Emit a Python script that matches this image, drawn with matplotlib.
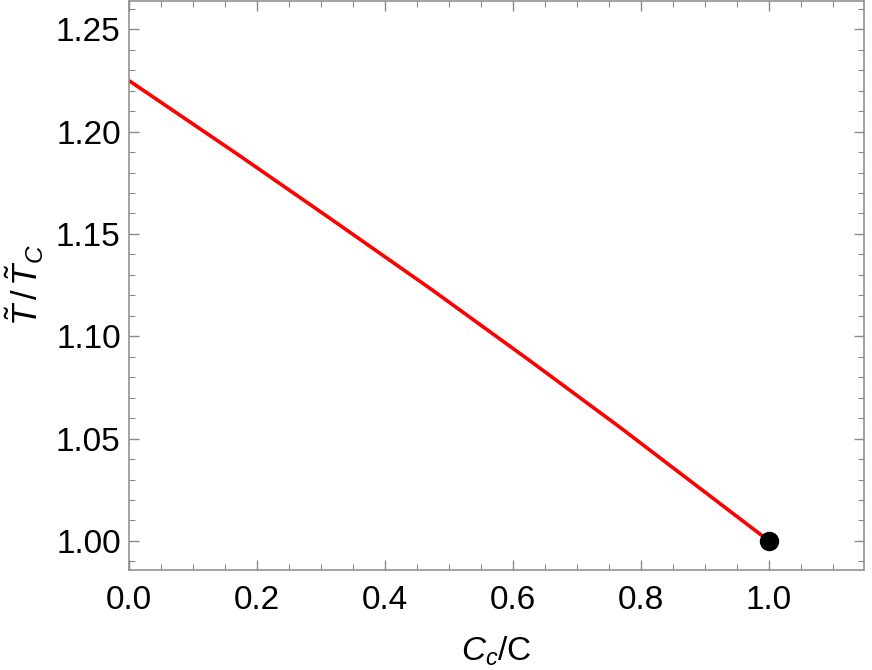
import matplotlib
matplotlib.use("Agg")
import matplotlib.pyplot as plt
from matplotlib.ticker import MultipleLocator, FormatStrFormatter

plt.rcParams['font.family'] = ['Liberation Sans', 'DejaVu Sans']
plt.rcParams['mathtext.fontset'] = 'custom'
plt.rcParams['mathtext.rm'] = 'Liberation Sans'
plt.rcParams['mathtext.it'] = 'Liberation Sans:italic'
plt.rcParams['mathtext.bf'] = 'Liberation Sans:bold'

# data
cc_ratio = [0.0, 0.1734, 0.3141, 0.4703, 0.6266, 0.7672, 0.8766, 1.0]
t_ratio = [1.2249, 1.1881, 1.1576, 1.1234, 1.0880, 1.0555, 1.0294, 1.0]
crit_x = [1.0]
crit_y = [1.0]
xticks = [0.0, 0.2, 0.4, 0.6, 0.8, 1.0]
yticks = [1.00, 1.05, 1.10, 1.15, 1.20, 1.25]

fig = plt.figure(figsize=(8.72, 6.7), dpi=100)
ax = fig.add_axes([129/872, 1 - 570/670, (864 - 129)/872, (570 - 1)/670])

ax.plot(cc_ratio, t_ratio, color='#ff0000', lw=2.6, solid_capstyle='butt', zorder=2)
ax.plot(crit_x, crit_y, 'o', color='black', ms=13, zorder=3)

ax.set_xlim(0.0, 1.1484)
ax.set_ylim(0.9858, 1.2638)
ax.set_xticks(xticks)
ax.set_yticks(yticks)
ax.xaxis.set_major_formatter(FormatStrFormatter('%.1f'))
ax.yaxis.set_major_formatter(FormatStrFormatter('%.2f'))
ax.xaxis.set_minor_locator(MultipleLocator(0.05))
ax.yaxis.set_minor_locator(MultipleLocator(0.01))

gray = '#8a8a8a'
for s in ax.spines.values():
    s.set_color(gray)
    s.set_linewidth(1.1)
ax.tick_params(which='both', direction='in', top=True, right=True, color=gray,
               labelsize=24, labelcolor='black')
ax.tick_params(which='major', length=7, width=1.0)
ax.tick_params(axis='x', which='major', pad=11)
ax.tick_params(axis='y', which='major', pad=6)
ax.tick_params(which='minor', length=4, width=0.8)

ax.set_xlabel(r'$C_c$/C', fontsize=24, labelpad=13)
ax.set_ylabel(r'$\tilde{T}\,/\,\tilde{T}_C$', fontsize=25)
ax.yaxis.set_label_coords(-0.113, 0.5)

fig.savefig('out.png', dpi=100)
